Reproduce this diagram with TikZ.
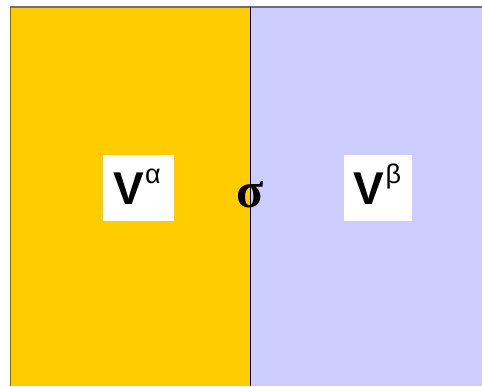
\documentclass[tikz,border=0pt]{standalone}
\usepackage{fontspec}
\setmainfont{Liberation Sans}
\newfontfamily\serifbold{Liberation Serif}
\definecolor{phaseA}{HTML}{FFCC00}
\definecolor{phaseB}{HTML}{CCCCFF}
\definecolor{edgeA}{RGB}{130,105,20}
\definecolor{edgeTop}{RGB}{110,110,125}
\begin{document}
\begin{tikzpicture}[x=1pt,y=1pt,
  labelbox/.style={fill=white,draw=none,inner sep=0pt},
  bigtxt/.style={inner sep=0pt,font=\fontsize{46}{46}\selectfont\bfseries},
  suptxt/.style={inner sep=0pt,font=\fontsize{27}{27}\selectfont}]
\useasboundingbox (0,0) rectangle (482,386);
% phases
\fill[phaseA] (10,0) rectangle (250,379);
\fill[phaseB] (250,0) rectangle (482,379);
\draw[edgeTop,line width=1.2pt] (10,379) -- (482,379);
\draw[edgeA,line width=1pt] (10,0) -- (10,379);
\draw[black,line width=1pt] (250,0) -- (250,379);
% label boxes
\node[labelbox,minimum width=71pt,minimum height=66pt] (boxA) at (138.5,198) {};
\node[labelbox,minimum width=68pt,minimum height=66pt] (boxB) at (378,198) {};
\node[bigtxt,anchor=base] (vA) at (128.5,181) {V};
\node[suptxt,anchor=base west] (alpha) at (vA.base east) [yshift=21pt,xshift=1pt] {α};
\node[bigtxt,anchor=base] (vB) at (369,181) {V};
\node[suptxt,anchor=base west] (beta) at (vB.base east) [yshift=21pt,xshift=1pt] {β};
% interface
\node[inner sep=0pt,font=\fontsize{50}{50}\selectfont\serifbold\bfseries,anchor=base] (sigma) at (250.5,178) {σ};
\end{tikzpicture}
\end{document}
